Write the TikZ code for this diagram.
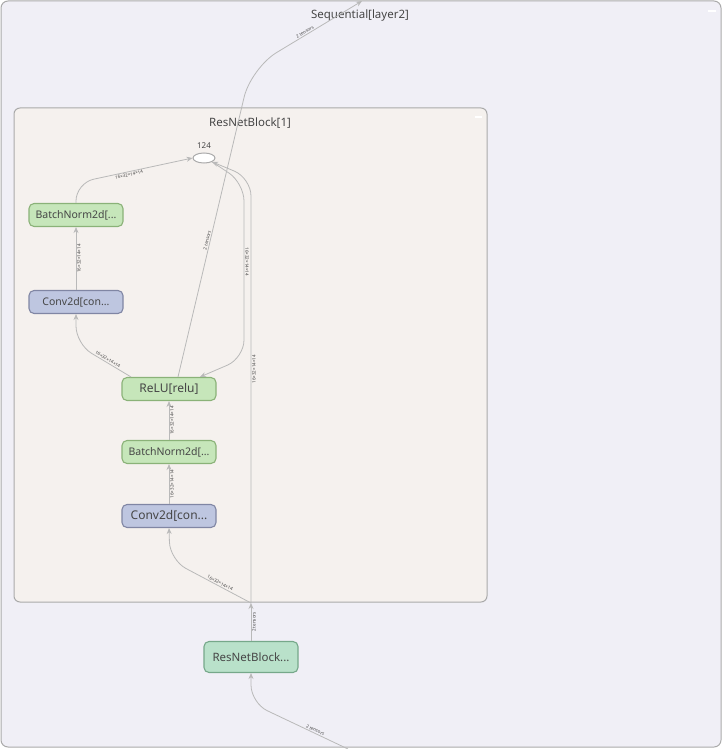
\documentclass[tikz,border=0pt]{standalone}
\usepackage{fontspec}
\setmainfont{Noto Sans}
\usetikzlibrary{arrows.meta,shapes.geometric}

\definecolor{outerbg}{RGB}{240,239,246}
\definecolor{innerbg}{RGB}{245,241,238}
\definecolor{boxline}{RGB}{170,170,170}
\definecolor{edgegray}{RGB}{185,185,185}
\definecolor{txtgray}{RGB}{70,70,70}
\definecolor{greenfill}{RGB}{198,230,186}
\definecolor{greenline}{RGB}{138,178,120}
\definecolor{bluefill}{RGB}{190,198,224}
\definecolor{blueline}{RGB}{128,134,164}
\definecolor{mintfill}{RGB}{185,225,202}
\definecolor{mintline}{RGB}{118,168,138}

\begin{document}
\begin{tikzpicture}[x=1pt,y=-1pt,
    op/.style={draw, line width=1.1pt, rounded corners=5pt, minimum width=94pt,
        minimum height=23pt, text=txtgray, font=\fontsize{10.5}{12}\selectfont},
    bnop/.style={op, fill=greenfill, draw=greenline},
    convop/.style={op, fill=bluefill, draw=blueline},
    edge/.style={draw=edgegray, line width=0.8pt, rounded corners=18pt,
        -{Stealth[length=6pt,width=5pt]}},
    elab/.style={font=\fontsize{4.5}{5}\selectfont, text=txtgray, sloped, inner sep=1pt}]
    \useasboundingbox (0,0) rectangle (723,749);

    % group boxes
    \draw[boxline, fill=outerbg, line width=1pt, rounded corners=7pt] (1,1) rectangle (721,747);
    \node[text=txtgray, font=\fontsize{11.5}{13}\selectfont] (seqtitle) at (360,16) {Sequential[layer2]};
    \draw[white, line width=1.5pt] (708,11) -- (716,11);

    \draw[boxline, fill=innerbg, line width=1pt, rounded corners=6pt] (14,108) rectangle (487,602);
    \node[text=txtgray, font=\fontsize{11.5}{13}\selectfont] (blocktitle) at (250,123) {ResNetBlock[1]};
    \draw[white, line width=1.5pt] (475,117) -- (482,117);

    % nodes
    \node[ellipse, draw=boxline, fill=white, line width=1pt, minimum width=22pt, minimum height=10pt, inner sep=0pt] (n124) at (204,158) {};
    \node[text=txtgray, font=\fontsize{8}{9}\selectfont] (n124lab) at (204,146) {124};
    \node[bnop] (bn2) at (76,215) {BatchNorm2d[...};
    \node[convop] (conv2) at (76,302) {Conv2d[con...};
    \node[bnop, font=\fontsize{12}{14}\selectfont] (relu) at (169,389) {ReLU[relu]};
    \node[bnop] (bn1) at (169,452) {BatchNorm2d[...};
    \node[convop, font=\fontsize{12}{14}\selectfont] (conv1) at (169,516) {Conv2d[con...};
    \node[op, fill=mintfill, draw=mintline, minimum height=31pt, font=\fontsize{11.5}{13}\selectfont] (rb) at (251,657) {ResNetBlock...};

    \coordinate (bin) at (348,749);
    \coordinate (blockin) at (251,603);
    \coordinate (seqout) at (362,1);

    % edges
    \draw[edge] (bin) -- node[elab, above, pos=0.35] {2 tensors} (251,703) -- (rb.south);
    \draw[edge] (rb.north) -- node[elab, below, pos=0.5] {2 tensors} (blockin);
    \draw[edge] (blockin) -- node[elab, below, pos=0.55] {16×32×14×14} (251,178) -- (n124.south east);
    \draw[edge] (blockin) -- node[elab, above, pos=0.4] {16×32×14×14} (170,560) -- (conv1.south);
    \draw[edge] (conv1.north) -- node[elab, below] {16×32×14×14} (bn1.south);
    \draw[edge] (bn1.north) -- node[elab, below] {16×32×14×14} (relu.south);
    \draw[edge] ([xshift=-38pt]relu.north) -- node[elab, above, pos=0.45] {16×32×14×14} (76,344) -- (conv2.south);
    \draw[edge] (conv2.north) -- node[elab, below] {16×32×14×14} (bn2.south);
    \draw[edge] (bn2.north) -- (76,183) -- node[elab, below, pos=0.45] {16×32×14×14} (n124.west);
    \draw[edge] (n124.south east) -- (244,183) -- node[elab, above, pos=0.45] {16×32×14×14} (244,358) -- ([xshift=31pt]relu.north);
    \draw[edge, rounded corners=30pt] ([xshift=9pt]relu.north) -- node[elab, above, pos=0.44] {2 tensors} (251,68) -- node[elab, above, pos=0.5] {2 tensors} (seqout);
\end{tikzpicture}
\end{document}
